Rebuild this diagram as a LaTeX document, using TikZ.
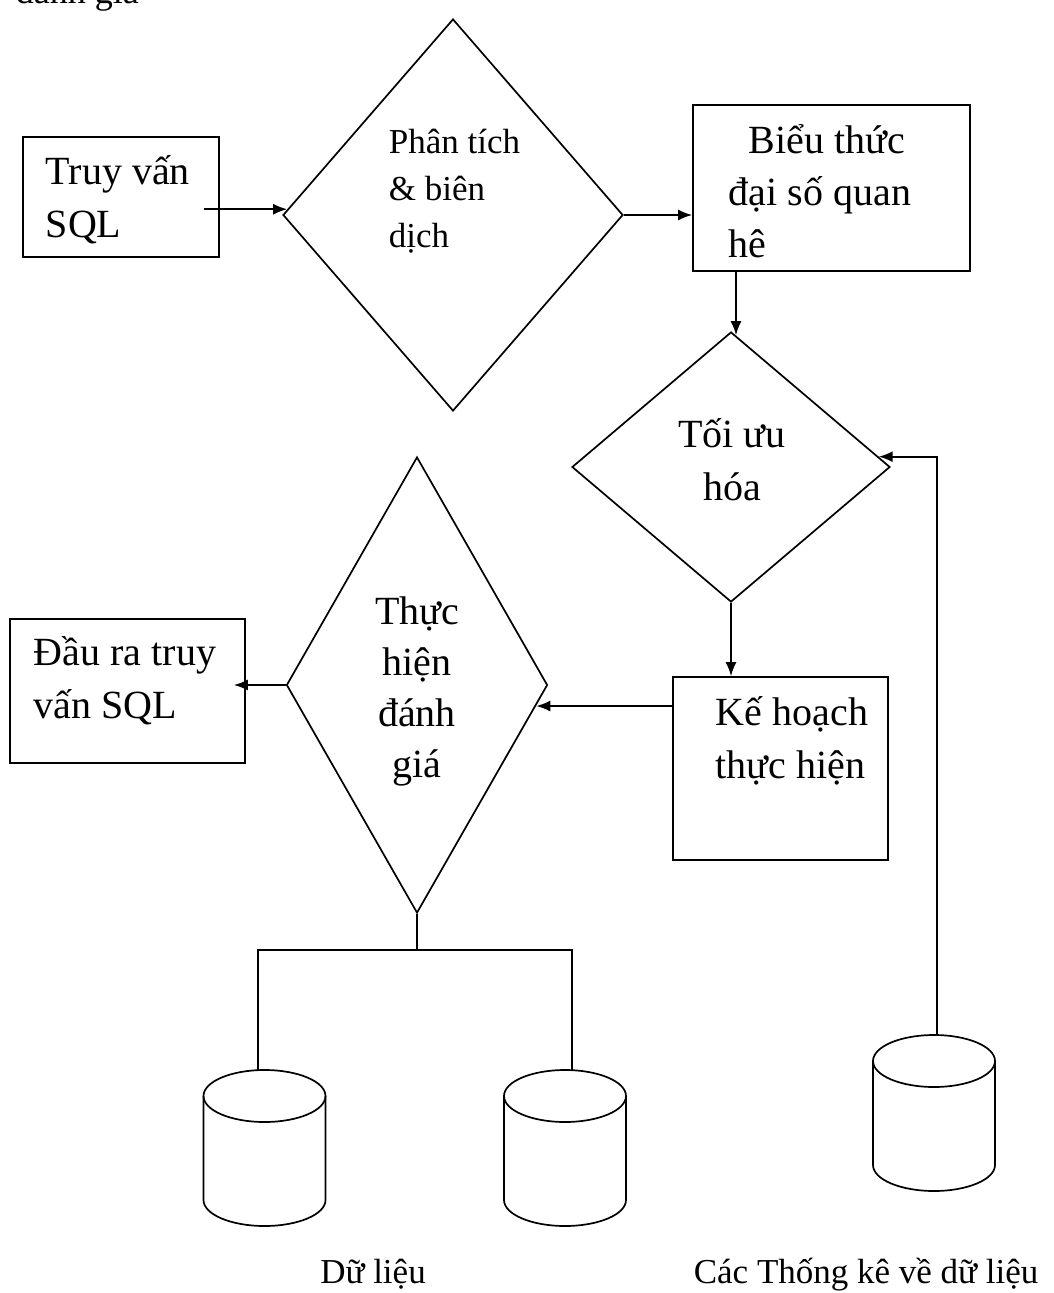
\documentclass[tikz,border=0pt]{standalone}
\usepackage{fontspec}
\setmainfont{Liberation Serif}
\usetikzlibrary{shapes.geometric,arrows.meta}
\begin{document}
\begin{tikzpicture}[x=1pt,y=-1pt,
  line width=1.7pt,
  box/.style={draw, rectangle, inner sep=0pt},
  dia/.style={draw, diamond, inner sep=0pt},
  arr/.style={-{Latex[length=14pt,width=11pt]}},
  txt/.style={inner sep=0pt, font=\fontsize{40pt}{53pt}\selectfont},
  txtsmall/.style={inner sep=0pt, font=\fontsize{35pt}{47pt}\selectfont},
  dbcyl/.pic={
    \draw (0,0) ellipse [x radius=61pt, y radius=26pt];
    \draw (-61,0) -- (-61,104)
      arc [start angle=180, end angle=360, x radius=61pt, y radius=26pt]
      -- (61,0);
    \coordinate (-top) at (0,-26);
  }
]
\useasboundingbox (0,0) rectangle (1054,1293);

% heading fragment running off the top edge
\node[txt, font=\fontsize{36pt}{44pt}\selectfont, anchor=base west] (frag) at (15,3) {đánh giá};

% process boxes
\node[box, minimum width=196pt, minimum height=120pt] (inq)  at (121,197)   {};
\node[box, minimum width=277pt, minimum height=166pt] (expr) at (831.5,188) {};
\node[box, minimum width=215pt, minimum height=183pt] (plan) at (780.5,768.5) {};
\node[box, minimum width=235pt, minimum height=144pt] (out)  at (127.5,691) {};

% decision-style diamonds
\node[dia, minimum width=340pt, minimum height=392pt] (parse) at (453,215) {};
\node[dia, minimum width=318pt, minimum height=270pt] (opt)   at (731,467) {};
\node[dia, minimum width=261pt, minimum height=456pt] (exec)  at (417,685) {};

% labels (anchored on the baseline of their last line)
\node[txt, anchor=base west, align=left] (inqT) at (45,237) {Truy vấn\\SQL};
\node[txtsmall, anchor=base west, align=left] (parseT) at (388,247) {Phân tích\\\& biên\\dịch};
\node[txt, font=\fontsize{40pt}{52pt}\selectfont, anchor=base west, align=left] (exprT) at (728,257) {\hspace*{20pt}Biểu thức\\đại số quan\\hê};
\node[txt, anchor=base, align=center] (optT) at (732,500) {Tối ưu\\hóa};
\node[txt, font=\fontsize{40pt}{51pt}\selectfont, anchor=base, align=center] (execT) at (417,777) {Thực\\hiện\\đánh\\giá};
\node[txt, anchor=base west, align=left] (planT) at (715,778) {Kế hoạch\\thực hiện};
\node[txt, anchor=base west, align=left] (outT) at (33,718) {Đầu ra truy\\vấn SQL};

% data stores
\pic (cylA) at (264.5,1096) {dbcyl};
\pic (cylB) at (565,1096) {dbcyl};
\pic (cylC) at (934,1061) {dbcyl};
\node[txtsmall, anchor=base] (dataL) at (373,1283) {Dữ liệu};
\node[txtsmall, anchor=base west] (statL) at (693,1283) {Các Thống kê về dữ liệu};

% flow
\draw[arr] ([xshift=-16pt]inq.east |- parse.178) -- (parse.178);
\draw[arr] (parse.east) -- (parse.east -| expr.west);
\draw[arr] ([xshift=5pt]expr.south -| opt.north) -- ([shift={(5pt,-4pt)}]opt.north);
\draw[arr] (opt.south) -- (opt.south |- plan.north);
\draw[arr] (exec.-10.4 -| plan.west) -- (exec.-10.4);
\draw[arr] (exec.west) -- ([xshift=-12pt]exec.west -| out.east);
\draw[arr] ([xshift=3pt]cylC-top) |- (opt.4);

% execution reads the data stores
\coordinate (bus) at (417,950);
\draw (exec.south) -- (bus);
\draw ([xshift=-6.5pt]cylA-top) |- (bus) -| ([xshift=7pt]cylB-top);
\end{tikzpicture}
\end{document}
